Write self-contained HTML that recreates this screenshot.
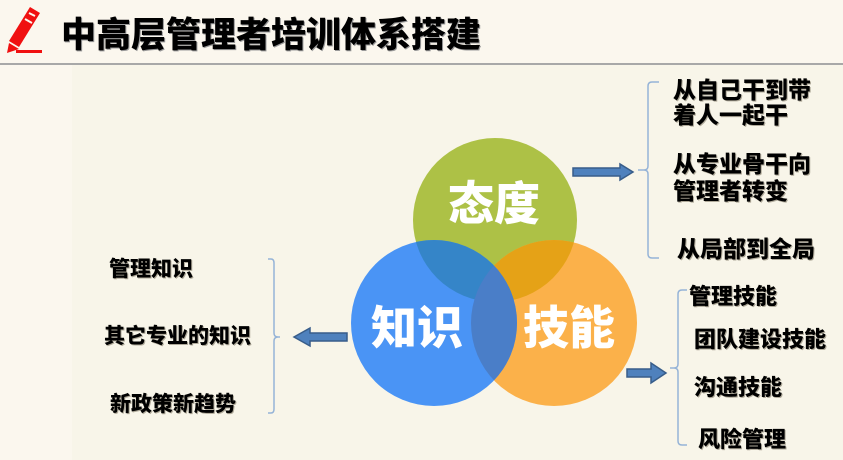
<!DOCTYPE html>
<html><head><meta charset="utf-8"><style>
html,body{margin:0;padding:0}
body{width:843px;height:460px;position:relative;overflow:hidden;background:#f8f5e9;font-family:"Liberation Sans","Noto Sans CJK SC",sans-serif}
.t{position:absolute;font-weight:900;color:#000;white-space:nowrap;line-height:1;text-shadow:1px 1px 0 #b0aa9a}
</style></head><body>
<div style="position:absolute;left:0;top:0;width:72px;height:460px;background:#fbf7ee"></div>
<div style="position:absolute;left:0;top:0;width:843px;height:64px;background:#fbf7ee"></div>
<div style="position:absolute;left:0;top:63px;width:843px;height:2px;background:#a8a8a8"></div>
<svg style="position:absolute;left:0;top:0" width="843" height="460">
<g fill="#f01010">
<polygon points="30,7 40,13 19,47 9,41"/>
<polygon points="9,43 19,49 7,53"/>
<rect x="16" y="50" width="26" height="3"/>
</g>
<line x1="29" y1="13" x2="35" y2="16" stroke="#fbf7ee" stroke-width="2"/>
<line x1="25" y1="19" x2="32" y2="23" stroke="#fbf7ee" stroke-width="2"/>
<defs>
<clipPath id="cg"><circle cx="495" cy="220" r="82"/></clipPath>
<clipPath id="co"><circle cx="554" cy="323" r="83"/></clipPath>
</defs>
<circle cx="495" cy="220" r="82" fill="#adc146"/>
<circle cx="554" cy="323" r="83" fill="#fbb14a"/>
<circle cx="554" cy="323" r="83" fill="#e5a217" clip-path="url(#cg)"/>
<circle cx="434" cy="323" r="83" fill="#4a94f5"/>
<circle cx="434" cy="323" r="83" fill="#3585c8" clip-path="url(#cg)"/>
<circle cx="434" cy="323" r="83" fill="#4a7ec8" clip-path="url(#co)"/>
<g fill="#4f81bd" stroke="#385d8a" stroke-width="1.5">
<polygon points="573,168 620,168 620,164 633,172 620,180 620,176 573,176"/>
<polygon points="347,333 310,333 310,328 294,337 310,346 310,341 347,341"/>
<polygon points="627,369 651,369 651,363 666,373 651,383 651,377 627,377"/>
</g>
<g fill="none" stroke="#95b3d7" stroke-width="1.5">
<path d="M659,82 H652 Q648,82 648,86 V166 Q648,170 644,170 H638 M644,170 Q648,170 648,174 V254 Q648,258 652,258 H659"/>
<path d="M687,290 H682 Q678,290 678,294 V364 Q678,368 674,368 H670 M674,368 Q678,368 678,372 V441 Q678,445 682,445 H687"/>
<path d="M268,259 H271 Q274,259 274,263 V333 Q274,337 278,337 H280 M278,337 Q274,337 274,341 V409 Q274,413 271,413 H268"/>
</g>
</svg>
<div class="t" style="left:61px;top:18px;font-size:35px;text-shadow:1px 1px 0 #999">中高层管理者培训体系搭建</div>
<div class="t" style="left:448px;top:181px;font-size:46px;color:#fff;text-shadow:none">态度</div>
<div class="t" style="left:371px;top:305px;font-size:46px;color:#fff;text-shadow:none">知识</div>
<div class="t" style="left:523px;top:305px;font-size:46px;color:#fff;text-shadow:none">技能</div>
<div class="t" style="left:673px;top:78px;font-size:23px;line-height:25px">从自己干到带<br>着人一起干</div>
<div class="t" style="left:673px;top:151px;font-size:23px;line-height:27px">从专业骨干向<br>管理者转变</div>
<div class="t" style="left:677px;top:238px;font-size:23px">从局部到全局</div>
<div class="t" style="left:689px;top:286px;font-size:22px">管理技能</div>
<div class="t" style="left:694px;top:329px;font-size:22px">团队建设技能</div>
<div class="t" style="left:694px;top:377px;font-size:22px">沟通技能</div>
<div class="t" style="left:698px;top:429px;font-size:22px">风险管理</div>
<div class="t" style="left:109px;top:259px;font-size:21px">管理知识</div>
<div class="t" style="left:104px;top:326px;font-size:21px">其它专业的知识</div>
<div class="t" style="left:110px;top:394px;font-size:21px">新政策新趋势</div>
</body></html>
